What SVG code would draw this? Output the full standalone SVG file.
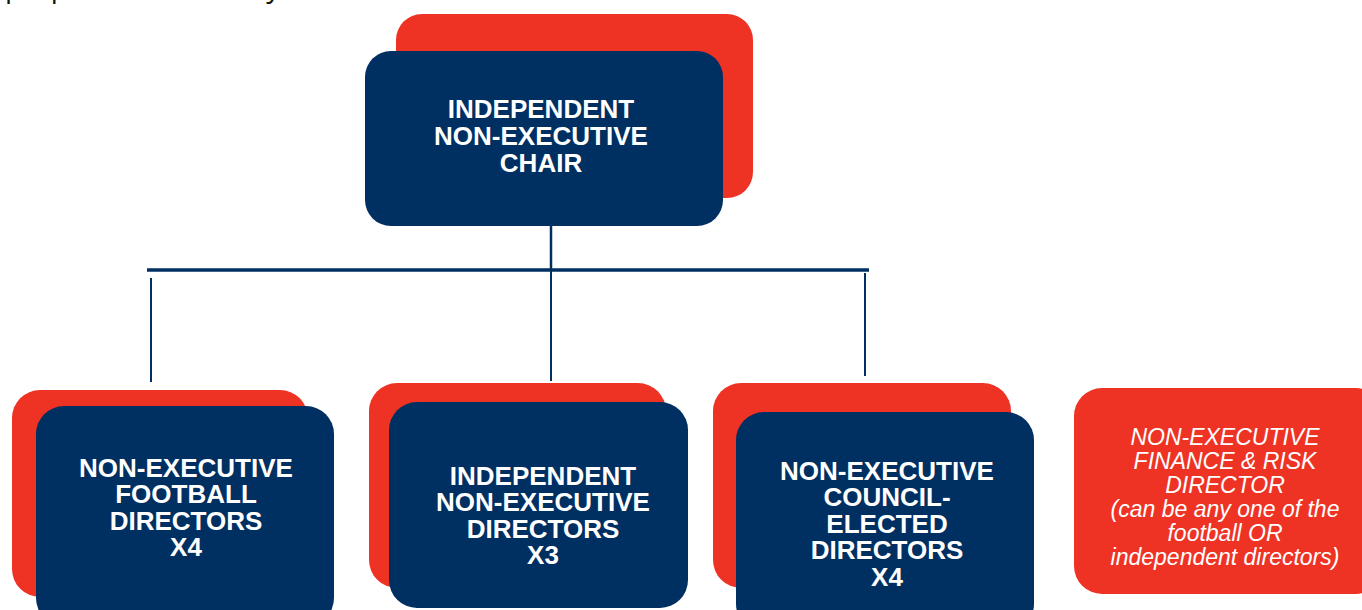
<svg xmlns="http://www.w3.org/2000/svg" width="1362" height="610" viewBox="0 0 1362 610">
<style>
.red{fill:#EE3325}
.navy{fill:#002F62}
.t{font-family:"Liberation Sans",Arial,sans-serif;font-weight:bold;font-size:26px;fill:#fff;text-anchor:middle}
.ti{font-family:"Liberation Sans",Arial,sans-serif;font-style:italic;font-size:23px;fill:#fff;text-anchor:middle}
.c{stroke:#002F62;fill:none}
</style>
<rect width="1362" height="610" fill="#fff"/>
<text x="5" y="-3" font-family="'Open Sans',sans-serif" font-size="28" fill="#111">purpose and delivery</text>
<g id="connectors">
<line class="c" x1="551" y1="226" x2="551" y2="270" stroke-width="2.5"/>
<line class="c" x1="147" y1="270" x2="869" y2="270" stroke-width="3.5"/>
<line class="c" x1="151" y1="278" x2="151" y2="382" stroke-width="2"/>
<line class="c" x1="551" y1="270" x2="551" y2="381" stroke-width="2"/>
<line class="c" x1="865" y1="273" x2="865" y2="376" stroke-width="2"/>
</g>
<g id="chair">
<rect class="red" x="396" y="14" width="357" height="184" rx="26"/>
<rect class="navy" x="365" y="51" width="358" height="175" rx="26"/>
<text class="t" x="541" y="118">INDEPENDENT</text>
<text class="t" x="541" y="145">NON-EXECUTIVE</text>
<text class="t" x="541" y="172">CHAIR</text>
</g>
<g id="football">
<rect class="red" x="12" y="390" width="296" height="207" rx="28"/>
<rect class="navy" x="36" y="406" width="298" height="220" rx="28"/>
<text class="t" x="186" y="477">NON-EXECUTIVE</text>
<text class="t" x="186" y="503">FOOTBALL</text>
<text class="t" x="186" y="530">DIRECTORS</text>
<text class="t" x="186" y="556">X4</text>
</g>
<g id="independent">
<rect class="red" x="369" y="383" width="297" height="205" rx="28"/>
<rect class="navy" x="389" y="402" width="299" height="206" rx="28"/>
<text class="t" x="543" y="485">INDEPENDENT</text>
<text class="t" x="543" y="511">NON-EXECUTIVE</text>
<text class="t" x="543" y="538">DIRECTORS</text>
<text class="t" x="543" y="564">X3</text>
</g>
<g id="council">
<rect class="red" x="713" y="383" width="298" height="205" rx="28"/>
<rect class="navy" x="736" y="412" width="298" height="220" rx="28"/>
<text class="t" x="887" y="480">NON-EXECUTIVE</text>
<text class="t" x="887" y="506">COUNCIL-</text>
<text class="t" x="887" y="533">ELECTED</text>
<text class="t" x="887" y="559">DIRECTORS</text>
<text class="t" x="887" y="586">X4</text>
</g>
<g id="finance">
<rect class="red" x="1074" y="388" width="310" height="206" rx="28"/>
<text class="ti" x="1225" y="445">NON-EXECUTIVE</text>
<text class="ti" x="1225" y="469">FINANCE &amp; RISK</text>
<text class="ti" x="1225" y="493">DIRECTOR</text>
<text class="ti" x="1225" y="517">(can be any one of the</text>
<text class="ti" x="1225" y="541">football OR</text>
<text class="ti" x="1225" y="565">independent directors)</text>
</g>
</svg>
